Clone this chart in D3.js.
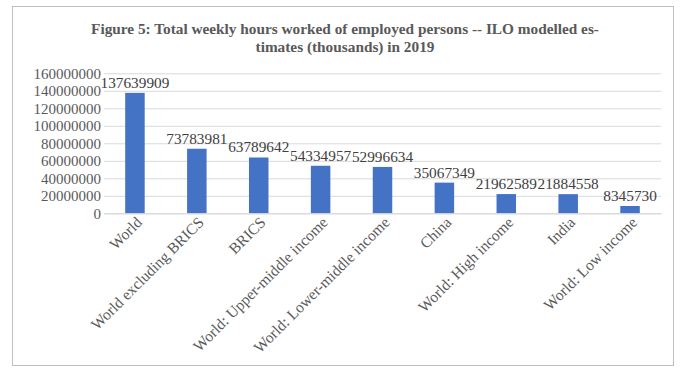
<!DOCTYPE html>
<html><head><meta charset="utf-8">
<script src="https://cdn.jsdelivr.net/npm/d3@7"></script>
<style>body{margin:0;background:#fff}</style>
</head><body>
<svg id="c" width="688" height="379"></svg>
<script>
const categories = ["World","World excluding BRICS","BRICS","World: Upper-middle income","World: Lower-middle income","China","World: High income","India","World: Low income"];
const values = [137639909,73783981,63789642,54334957,52996634,35067349,21962589,21884558,8345730];
const yTicks = [0,20000000,40000000,60000000,80000000,100000000,120000000,140000000,160000000];
const titleLines = ["Figure 5: Total weekly hours worked of employed persons -- ILO modelled es-","timates (thousands) in 2019"];

(function(){
const svg = d3.select("#c");
const font = "'Liberation Serif', serif";
svg.append("rect").attr("x",12.5).attr("y",6.5).attr("width",661).attr("height",359)
  .attr("fill","#fff").attr("stroke","#bfbfbf").attr("stroke-width",1);

svg.selectAll("text.title").data(titleLines).join("text")
  .attr("x",345).attr("y",(d,i)=>34+i*18).attr("text-anchor","middle")
  .attr("font-family",font).attr("font-weight","bold").attr("font-size",15.3)
  .attr("fill","#595959").text(d=>d);

const pL=104, pR=661, pT=73.3, pB=213.3;
const x = d3.scaleBand().domain(categories).range([pL,pR]).padding(0);
const y = d3.scaleLinear().domain([0,160000000]).range([pB,pT]);

const yAxis = d3.axisLeft(y).tickValues(yTicks).tickSize(-(pR-pL)).tickFormat(d3.format("d"));
const ga = svg.append("g").attr("transform",`translate(${pL},0)`).call(yAxis);
ga.select(".domain").remove();
ga.selectAll(".tick line").attr("stroke","#d9d9d9").attr("stroke-width",1);
ga.selectAll(".tick text").attr("x",-3).attr("font-family",font).attr("font-size",15).attr("fill","#595959");

const bw = x.bandwidth()*0.315;
svg.selectAll("rect.bar").data(values).join("rect")
  .attr("x",(d,i)=>x(categories[i])+x.bandwidth()/2-bw/2)
  .attr("y",d=>y(d)).attr("width",bw).attr("height",d=>pB-y(d))
  .attr("fill","#4472C4");

svg.selectAll("text.val").data(values).join("text")
  .attr("x",(d,i)=>x(categories[i])+x.bandwidth()/2)
  .attr("y",d=>y(d)-5).attr("text-anchor","middle")
  .attr("font-family",font).attr("font-size",15.3).attr("fill","#404040").text(d=>d);

const xAxis = d3.axisBottom(x).tickSize(0);
const gx = svg.append("g").attr("transform",`translate(0,${pB})`).call(xAxis);
gx.select(".domain").attr("stroke","#d9d9d9");
gx.selectAll(".tick text").attr("font-family",font).attr("font-size",15.5).attr("fill","#595959")
  .attr("text-anchor","end").attr("dy",0).attr("y",0)
  .attr("transform","translate(8,10) rotate(-45)");
})();
</script>
</body></html>
